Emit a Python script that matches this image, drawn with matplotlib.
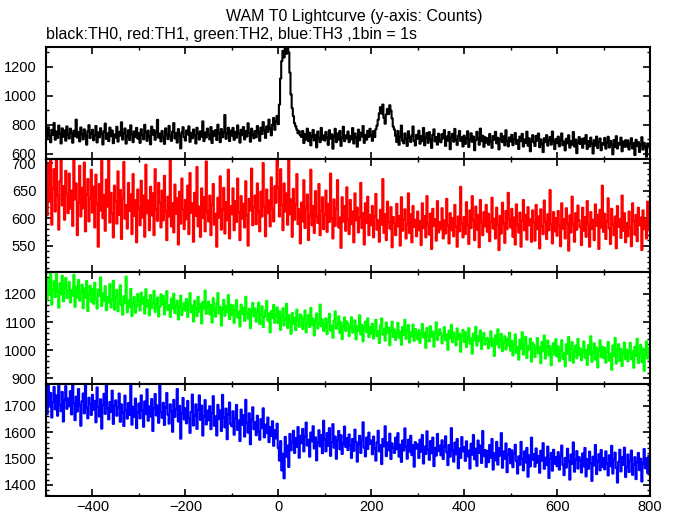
import matplotlib
matplotlib.use("Agg")
import matplotlib.pyplot as plt
import numpy as np
from matplotlib.ticker import MultipleLocator

plt.rcParams['font.family'] = ['Liberation Sans', 'DejaVu Sans']

# time axis: 2.5 s bins from -500 to 800, one row of 20 values = 50 s
# (counts)
t_start, t_step = -500, 2.5

th0 = [
    749, 702, 784, 723, 680, 766, 731, 813, 698, 754, 710, 795, 739, 672, 776, 718, 762, 691, 789, 733,
    706, 774, 744, 677, 760, 722, 836, 713, 752, 686, 782, 736, 700, 769, 725, 664, 757, 798, 709, 743,
    766, 694, 729, 792, 679, 748, 715, 777, 738, 665, 756, 809, 703, 742, 688, 781, 722, 761, 674, 734,
    713, 787, 685, 752, 726, 818, 699, 741, 775, 671, 722, 763, 696, 797, 736, 681, 755, 717, 779, 706,
    744, 676, 770, 730, 701, 800, 750, 690, 760, 720, 666, 788, 733, 764, 697, 747, 835, 712, 739, 686,
    758, 715, 669, 776, 736, 702, 793, 724, 690, 753, 812, 707, 744, 678, 771, 729, 638, 748, 784, 716,
    692, 761, 734, 790, 683, 745, 708, 768, 726, 672, 780, 739, 699, 756, 718, 824, 688, 747, 713, 774,
    731, 700, 785, 675, 755, 724, 764, 696, 801, 742, 681, 771, 715, 750, 868, 704, 741, 780, 689, 760,
    726, 779, 697, 752, 712, 796, 741, 678, 766, 729, 785, 700, 757, 720, 811, 744, 684, 774, 735, 708,
    757, 715, 792, 746, 690, 781, 737, 819, 764, 710, 789, 752, 836, 773, 728, 801, 848, 766, 822, 862,
    805, 940, 1120, 1240, 1310, 1265, 1350, 1290, 1370, 1300, 1160, 1010, 915, 860, 812, 790, 768, 742, 756, 728,
    717, 758, 675, 737, 699, 774, 688, 746, 659, 722, 765, 693, 731, 645, 754, 710, 681, 779, 700, 727,
    692, 751, 714, 662, 763, 705, 735, 636, 722, 773, 681, 740, 698, 758, 655, 715, 787, 688, 728, 707,
    754, 681, 724, 700, 778, 672, 740, 711, 649, 767, 694, 746, 720, 792, 676, 731, 698, 759, 717, 773,
    728, 690, 757, 716, 770, 795, 835, 880, 922, 878, 940, 848, 808, 872, 910, 875, 935, 898, 845, 788,
    768, 725, 682, 758, 663, 718, 795, 690, 673, 741, 705, 655, 756, 713, 682, 727, 789, 689, 658, 731,
    704, 760, 670, 724, 688, 779, 659, 713, 744, 676, 750, 700, 641, 731, 769, 686, 716, 664, 739, 694,
    680, 736, 707, 764, 655, 720, 692, 751, 632, 711, 738, 684, 772, 698, 662, 725, 758, 689, 714, 651,
    726, 669, 707, 756, 648, 700, 742, 683, 719, 625, 694, 752, 707, 663, 774, 688, 725, 649, 715, 678,
    708, 663, 737, 686, 642, 723, 697, 752, 673, 711, 631, 700, 740, 681, 721, 659, 763, 689, 652, 713,
    685, 731, 660, 702, 744, 669, 695, 634, 719, 688, 738, 651, 699, 676, 753, 657, 707, 618, 690, 729,
    680, 654, 724, 690, 740, 646, 700, 669, 612, 708, 681, 729, 657, 695, 716, 664, 754, 685, 633, 703,
    674, 719, 652, 693, 741, 660, 685, 624, 704, 673, 728, 643, 689, 664, 751, 651, 699, 605, 679, 716,
    668, 703, 642, 707, 672, 730, 634, 688, 651, 712, 669, 603, 694, 657, 719, 640, 682, 706, 625, 674,
    663, 710, 636, 680, 718, 644, 690, 667, 597, 695, 648, 722, 637, 676, 664, 712, 618, 685, 649, 694,
    651, 693, 630, 669, 708, 638, 675, 592, 697, 654, 681, 613, 663, 715, 630, 676, 650, 580, 672, 660,
    640,
]

th1 = [
    672, 605, 698, 631, 715, 588, 654, 689, 612, 709, 641, 579, 667, 712, 623, 658, 597, 686, 644, 609,
    681, 617, 650, 586, 708, 634, 663, 569, 628, 695, 603, 655, 618, 701, 576, 643, 671, 594, 636, 688,
    610, 657, 583, 679, 626, 548, 662, 614, 704, 600, 642, 577, 670, 621, 711, 592, 646, 608, 565, 659,
    631, 590, 685, 606, 651, 562, 636, 702, 599, 624, 581, 664, 613, 643, 571, 680, 604, 633, 556, 652,
    618, 587, 668, 601, 641, 566, 697, 609, 632, 578, 657, 605, 645, 569, 689, 616, 595, 664, 628, 583,
    650, 596, 677, 612, 560, 639, 603, 706, 585, 627, 574, 661, 608, 636, 552, 648, 590, 672, 615, 580,
    633, 598, 659, 571, 682, 610, 627, 557, 646, 604, 693, 585, 621, 566, 654, 600, 638, 576, 703, 612,
    594, 641, 569, 625, 662, 588, 608, 548, 637, 601, 676, 579, 616, 655, 572, 629, 596, 688, 563, 622,
    607, 654, 578, 631, 593, 672, 611, 560, 640, 599, 626, 583, 667, 605, 550, 635, 614, 690, 587, 620,
    641, 589, 663, 612, 576, 648, 603, 700, 621, 567, 652, 609, 632, 585, 674, 617, 594, 658, 628, 711,
    655, 603, 689, 624, 578, 663, 612, 645, 588, 705, 607, 634, 566, 653, 597, 625, 680, 589, 616, 554,
    628, 594, 669, 582, 617, 643, 560, 604, 688, 587, 622, 573, 649, 603, 591, 662, 569, 613, 638, 580,
    607, 650, 575, 626, 593, 681, 599, 563, 634, 586, 617, 669, 583, 601, 546, 638, 594, 622, 577, 656,
    598, 571, 633, 589, 612, 556, 645, 596, 619, 574, 601, 664, 582, 609, 552, 627, 591, 639, 569, 606,
    587, 622, 565, 603, 644, 579, 596, 557, 615, 588, 671, 573, 607, 560, 630, 593, 581, 620, 547, 602,
    591, 569, 626, 585, 604, 550, 638, 577, 598, 616, 563, 589, 645, 573, 607, 556, 622, 584, 597, 567,
    612, 578, 595, 551, 627, 582, 604, 565, 640, 589, 570, 608, 544, 617, 586, 598, 559, 631, 574, 593,
    580, 618, 563, 596, 572, 635, 587, 554, 609, 578, 600, 567, 624, 585, 548, 603, 576, 657, 590, 565,
    602, 571, 629, 588, 553, 614, 582, 640, 596, 560, 621, 579, 606, 547, 633, 592, 569, 611, 585, 624,
    575, 608, 558, 593, 637, 581, 599, 563, 619, 588, 542, 604, 572, 628, 590, 555, 613, 580, 646, 597,
    583, 617, 566, 601, 552, 625, 589, 574, 610, 548, 595, 633, 578, 606, 561, 620, 587, 598, 557, 614,
    592, 559, 624, 580, 603, 545, 616, 585, 571, 632, 594, 562, 607, 578, 651, 589, 554, 611, 576, 600,
    568, 613, 586, 549, 627, 581, 598, 563, 618, 590, 541, 605, 574, 639, 588, 557, 609, 579, 623, 596,
    584, 551, 619, 577, 602, 566, 631, 589, 548, 611, 580, 597, 560, 625, 586, 606, 544, 615, 583, 659,
    575, 608, 562, 594, 636, 581, 553, 617, 589, 569, 603, 545, 622, 584, 598, 564, 641, 577, 609, 556,
    591, 567, 612, 583, 549, 627, 595, 570, 606, 558, 619, 587, 601, 542, 614, 580, 596, 563, 630, 578,
    592,
]

th2 = [
    1231, 1178, 1254, 1196, 1283, 1162, 1217, 1245, 1189, 1272, 1208, 1151, 1238, 1199, 1265, 1174, 1223, 1257, 1185, 1211,
    1242, 1170, 1213, 1194, 1268, 1154, 1226, 1187, 1250, 1176, 1204, 1233, 1149, 1220, 1186, 1246, 1139, 1197, 1229, 1172,
    1218, 1165, 1240, 1182, 1148, 1216, 1193, 1259, 1157, 1202, 1175, 1228, 1142, 1189, 1170, 1235, 1152, 1179, 1247, 1144,
    1187, 1214, 1138, 1171, 1231, 1160, 1126, 1192, 1167, 1262, 1135, 1177, 1153, 1218, 1121, 1164, 1189, 1133, 1156, 1200,
    1173, 1141, 1205, 1166, 1188, 1130, 1217, 1155, 1177, 1124, 1196, 1149, 1168, 1211, 1136, 1163, 1187, 1120, 1154, 1199,
    1162, 1193, 1127, 1169, 1210, 1143, 1160, 1118, 1183, 1148, 1201, 1132, 1158, 1176, 1109, 1151, 1194, 1125, 1144, 1168,
    1141, 1182, 1118, 1167, 1203, 1135, 1158, 1102, 1176, 1149, 1121, 1190, 1137, 1164, 1095, 1171, 1148, 1212, 1129, 1156,
    1173, 1127, 1160, 1098, 1185, 1142, 1119, 1166, 1203, 1131, 1154, 1087, 1148, 1179, 1122, 1158, 1136, 1196, 1110, 1162,
    1125, 1159, 1097, 1143, 1178, 1116, 1137, 1084, 1162, 1129, 1151, 1104, 1190, 1133, 1112, 1147, 1078, 1139, 1168, 1120,
    1148, 1101, 1134, 1169, 1093, 1127, 1156, 1082, 1118, 1142, 1175, 1105, 1130, 1063, 1139, 1114, 1161, 1097, 1124, 1152,
    1096, 1137, 1072, 1118, 1149, 1088, 1110, 1165, 1079, 1125, 1101, 1058, 1132, 1093, 1115, 1071, 1144, 1106, 1083, 1127,
    1119, 1075, 1108, 1141, 1063, 1097, 1124, 1082, 1150, 1090, 1112, 1052, 1103, 1130, 1077, 1096, 1162, 1085, 1109, 1068,
    1081, 1113, 1057, 1098, 1129, 1070, 1087, 1044, 1105, 1138, 1076, 1093, 1120, 1061, 1099, 1039, 1084, 1116, 1068, 1102,
    1093, 1050, 1081, 1117, 1062, 1074, 1106, 1038, 1085, 1069, 1124, 1056, 1090, 1031, 1078, 1101, 1064, 1113, 1046, 1082,
    1059, 1094, 1041, 1072, 1108, 1050, 1067, 1025, 1088, 1113, 1055, 1076, 1034, 1098, 1062, 1080, 1017, 1069, 1101, 1047,
    1073, 1036, 1061, 1097, 1044, 1066, 1019, 1082, 1054, 1108, 1040, 1070, 1089, 1027, 1063, 1049, 1091, 1033, 1075, 1056,
    1038, 1071, 1026, 1057, 1093, 1045, 1062, 1008, 1079, 1050, 1031, 1085, 1047, 1066, 1012, 1058, 1099, 1036, 1053, 1074,
    1060, 1024, 1049, 1082, 1035, 1055, 1001, 1069, 1042, 1090, 1028, 1063, 1046, 1017, 1077, 1039, 1058, 994, 1051, 1072,
    1029, 1064, 1011, 1046, 1078, 1023, 1041, 987, 1059, 1035, 1083, 1016, 1050, 1032, 1070, 1004, 1044, 1061, 1020, 1038,
    1043, 1006, 1031, 1067, 1014, 1038, 979, 1052, 1021, 1074, 1009, 1035, 1058, 996, 1027, 1049, 1002, 1040, 1017, 1062,
    998, 1033, 981, 1019, 1056, 990, 1011, 966, 1037, 1005, 1064, 984, 1022, 1047, 972, 1015, 1002, 1041, 959, 1026,
    1018, 975, 1006, 1043, 988, 1011, 953, 1029, 996, 1052, 970, 1008, 1034, 981, 1014, 946, 1001, 1025, 983, 1039,
    977, 1013, 960, 998, 1035, 969, 990, 942, 1021, 986, 1047, 963, 1004, 1028, 955, 994, 1016, 971, 1040, 983,
    1006, 964, 995, 1031, 973, 1000, 947, 1018, 985, 1049, 958, 991, 1024, 966, 1009, 938, 997, 1035, 975, 1012,
    971, 1008, 955, 993, 1029, 962, 987, 930, 1016, 980, 1043, 952, 999, 1021, 961, 1004, 943, 990, 1027, 968,
    1002, 960, 991, 1026, 967, 996, 937, 1012, 979, 1040, 954, 988, 1019, 957, 1005, 926, 983, 1031, 970, 1009,
    985,
]

th3 = [
    1731, 1668, 1792, 1697, 1748, 1655, 1714, 1771, 1686, 1739, 1662, 1805, 1703, 1679, 1752, 1640, 1722, 1774, 1688, 1727,
    1698, 1755, 1667, 1789, 1710, 1645, 1734, 1678, 1763, 1700, 1624, 1716, 1746, 1671, 1798, 1692, 1652, 1730, 1706, 1665,
    1741, 1684, 1718, 1637, 1769, 1695, 1659, 1724, 1613, 1702, 1745, 1669, 1786, 1691, 1648, 1714, 1676, 1757, 1631, 1699,
    1720, 1662, 1693, 1746, 1639, 1705, 1674, 1623, 1738, 1683, 1651, 1710, 1665, 1791, 1628, 1696, 1657, 1727, 1615, 1673,
    1708, 1652, 1739, 1681, 1620, 1716, 1668, 1762, 1643, 1697, 1659, 1725, 1604, 1689, 1744, 1663, 1701, 1635, 1782, 1676,
    1654, 1711, 1627, 1693, 1748, 1666, 1632, 1705, 1679, 1601, 1722, 1658, 1687, 1763, 1640, 1699, 1575, 1671, 1729, 1648,
    1690, 1633, 1718, 1651, 1597, 1676, 1742, 1625, 1663, 1705, 1612, 1684, 1739, 1646, 1700, 1587, 1658, 1721, 1629, 1681,
    1645, 1698, 1611, 1672, 1736, 1624, 1660, 1587, 1703, 1649, 1682, 1604, 1741, 1655, 1618, 1689, 1573, 1667, 1712, 1630,
    1622, 1679, 1590, 1651, 1703, 1608, 1644, 1566, 1685, 1627, 1664, 1583, 1722, 1635, 1598, 1671, 1554, 1646, 1694, 1611,
    1637, 1588, 1662, 1603, 1571, 1649, 1615, 1690, 1580, 1628, 1596, 1655, 1562, 1619, 1585, 1641, 1548, 1607, 1576, 1632,
    1540, 1492, 1566, 1455, 1518, 1425, 1582, 1507, 1549, 1468, 1593, 1531, 1562, 1605, 1521, 1578, 1544, 1619, 1503, 1586,
    1558, 1612, 1527, 1584, 1636, 1549, 1571, 1507, 1598, 1565, 1622, 1538, 1580, 1493, 1561, 1607, 1546, 1589, 1520, 1643,
    1573, 1527, 1596, 1548, 1615, 1510, 1562, 1630, 1541, 1583, 1499, 1569, 1604, 1535, 1588, 1517, 1558, 1621, 1544, 1577,
    1532, 1591, 1549, 1502, 1574, 1529, 1609, 1563, 1488, 1553, 1586, 1521, 1570, 1637, 1541, 1508, 1579, 1536, 1598, 1555,
    1568, 1516, 1583, 1538, 1492, 1561, 1605, 1527, 1551, 1479, 1574, 1546, 1622, 1509, 1560, 1531, 1594, 1498, 1557, 1540,
    1521, 1579, 1535, 1596, 1507, 1552, 1487, 1568, 1530, 1614, 1544, 1499, 1571, 1526, 1586, 1513, 1550, 1469, 1562, 1537,
    1554, 1502, 1571, 1526, 1589, 1481, 1545, 1517, 1603, 1534, 1495, 1566, 1520, 1579, 1471, 1540, 1511, 1593, 1528, 1549,
    1512, 1569, 1498, 1546, 1584, 1523, 1475, 1551, 1507, 1615, 1531, 1488, 1560, 1516, 1574, 1463, 1538, 1502, 1581, 1527,
    1543, 1491, 1565, 1508, 1530, 1462, 1556, 1514, 1589, 1497, 1537, 1472, 1568, 1521, 1549, 1483, 1604, 1509, 1532, 1468,
    1529, 1486, 1551, 1503, 1574, 1458, 1520, 1493, 1563, 1477, 1540, 1511, 1596, 1465, 1527, 1499, 1557, 1448, 1515, 1536,
    1482, 1531, 1467, 1519, 1552, 1490, 1443, 1508, 1476, 1563, 1498, 1455, 1527, 1485, 1540, 1431, 1512, 1470, 1579, 1495,
    1517, 1469, 1538, 1484, 1510, 1446, 1529, 1492, 1558, 1461, 1503, 1475, 1545, 1426, 1498, 1521, 1454, 1533, 1480, 1506,
    1471, 1524, 1458, 1509, 1549, 1476, 1437, 1502, 1466, 1537, 1488, 1420, 1515, 1479, 1561, 1450, 1496, 1528, 1462, 1505,
    1493, 1447, 1519, 1470, 1540, 1432, 1498, 1461, 1526, 1482, 1415, 1507, 1474, 1551, 1441, 1489, 1516, 1455, 1532, 1468,
    1502, 1459, 1527, 1480, 1436, 1512, 1471, 1548, 1443, 1495, 1522, 1464, 1409, 1487, 1533, 1451, 1506, 1476, 1541, 1430,
    1468, 1515, 1449, 1491, 1530, 1438, 1477, 1505, 1422, 1486, 1521, 1456, 1499, 1413, 1482, 1536, 1463, 1497, 1445, 1510,
    1474,
]

series = [th0, th1, th2, th3]
colors = ['#000000', '#ff0000', '#00ff00', '#0000ff']
ylims = [(563, 1337), (503, 707), (880, 1280), (1358, 1783)]
y_major = [200, 50, 100, 100]
y_minor = [100, 10, 20, 20]


def plot_lightcurve():
    W, H = 674, 515
    fig = plt.figure(figsize=(W / 100, H / 100), dpi=100)

    left, right = 46, 650
    top, bottom = 47, 496
    ph = (bottom - top) / 4

    for i, (vals, c) in enumerate(zip(series, colors)):
        y0 = top + i * ph
        ax = fig.add_axes([left / W, 1 - (y0 + ph) / H, (right - left) / W, ph / H])
        t = t_start + t_step * np.arange(len(vals))
        # thicker line so the 2.5 s bins fill the band like the 1 s original
        ax.step(t, vals, where='mid', color=c, lw=1.5)

        ax.set_xlim(-500, 800)
        ax.set_ylim(*ylims[i])
        ax.xaxis.set_major_locator(MultipleLocator(200))
        ax.xaxis.set_minor_locator(MultipleLocator(100))
        ax.yaxis.set_major_locator(MultipleLocator(y_major[i]))
        ax.yaxis.set_minor_locator(MultipleLocator(y_minor[i]))
        ax.tick_params(which='both', direction='in', top=True, right=True,
                       labelsize=10.5, colors='black')
        ax.tick_params(which='major', length=5, width=1.2)
        ax.tick_params(which='minor', length=2.5, width=1)
        ax.tick_params(axis='y', pad=7)
        ax.tick_params(axis='x', pad=3)
        for s in ax.spines.values():
            s.set_linewidth(1.5)
        if i < 3:
            ax.tick_params(axis='x', labelbottom=False)

    fig.text(354 / W, 1 - 17 / H, 'WAM T0 Lightcurve (y-axis: Counts)',
             ha='center', va='center', fontsize=11.5)
    fig.text(46 / W, 1 - 35 / H, 'black:TH0, red:TH1, green:TH2, blue:TH3 ,1bin = 1s',
             ha='left', va='center', fontsize=11.5)

    fig.savefig('out.png', dpi=100)


if __name__ == "__main__":
    plot_lightcurve()
